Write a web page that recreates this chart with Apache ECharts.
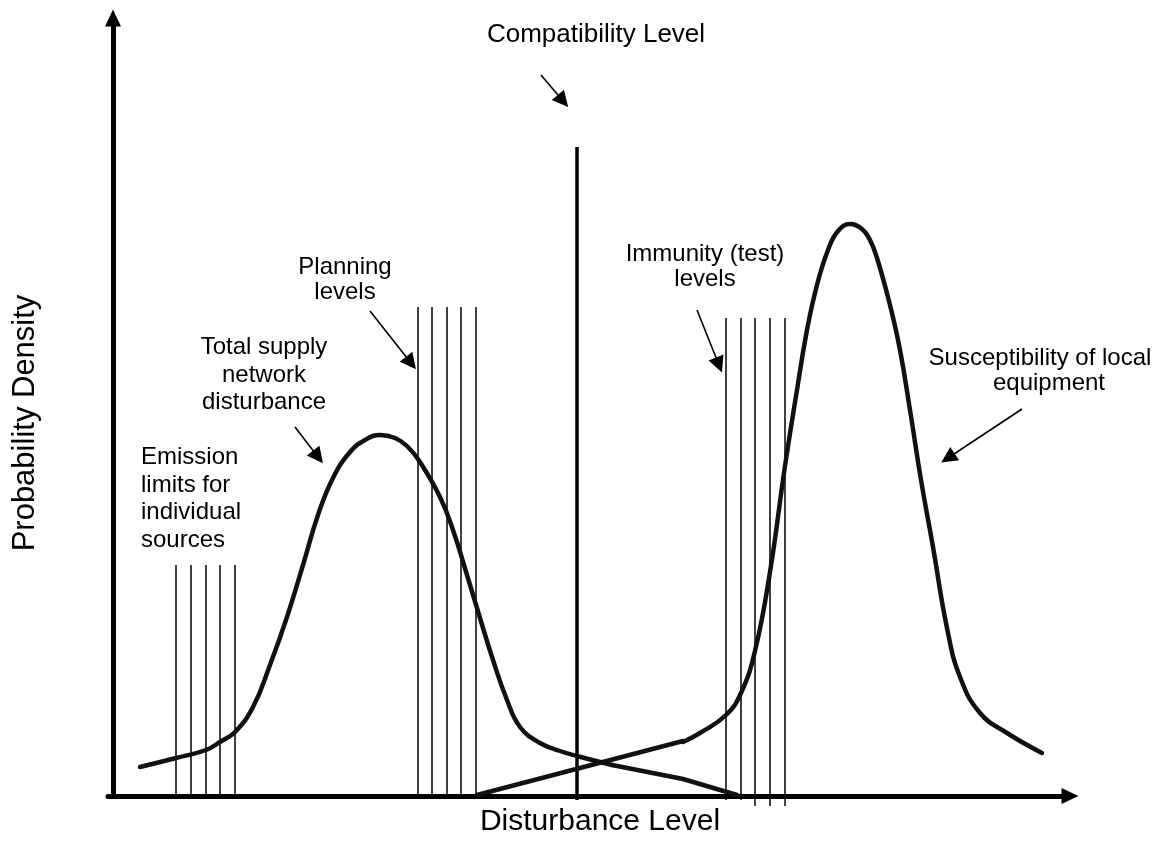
<!DOCTYPE html>
<html>
<head>
<meta charset="utf-8">
<title>Disturbance levels</title>
<script src="https://cdn.jsdelivr.net/npm/echarts@6/dist/echarts.min.js"></script>
<style>
  html, body { margin: 0; padding: 0; background: #fff; }
  #chart { width: 1156px; height: 841px; }
</style>
</head>
<body>
<div id="chart"></div>
<script>
// level lines (x position on the disturbance axis, top of the line)
const emissionLevels = [63, 78, 93, 107, 122]
const emissionTop = 231
const planningLevels = [305, 319, 334, 348, 363]
const planningTop = 489
const compatibilityLevel = 464
const compatibilityTop = 649
const immunityLevels = [613, 628, 642, 657, 672]
const immunityTop = 478
const immunityBottoms = [-4, -4, -10, -10, -10]

// total supply network disturbance (density curve)
const networkCurve = [
  [27, 29], [63, 38], [93, 46], [107, 54], [122, 64], [140, 89], [157, 131],
  [174, 179], [190, 231], [205, 281], [220, 318], [237, 344], [252, 356],
  [267, 361], [282, 358], [294, 350], [307, 334], [327, 299], [340, 266],
  [354, 221], [367, 178], [380, 136], [394, 96], [407, 69], [427, 53],
  [447, 45], [464, 40], [499, 31]
]
const networkTail = [[499, 31], [570, 17], [624, 1]]

// susceptibility of local equipment
const equipmentRise = [[364, 1], [570, 55]]
const equipmentCurve = [
  [570, 54], [587, 63], [613, 81], [628, 103], [642, 145], [657, 224],
  [672, 330], [684, 406], [694, 466], [704, 511], [715, 546], [725, 565],
  [737, 572], [749, 567], [757, 556], [764, 538], [777, 491], [787, 446],
  [797, 386], [808, 316], [820, 249], [834, 168], [847, 119], [867, 83],
  [894, 63], [929, 43]
]

// annotation arrows [from, to]
const arrows = [
  [[428, 721], [450, 695]],
  [[257, 485], [298, 433]],
  [[182, 369], [205, 339]],
  [[584, 486], [606, 431]],
  [[909, 387], [835, 338]]
]

const chart = echarts.init(document.getElementById('chart'))

const vLines = (xs, top, bottoms) => xs.map((x, i) => ({
  coords: [[x, Array.isArray(bottoms) ? bottoms[i] : bottoms], [x, top]]
}))

const font = '"Liberation Sans", Arial, sans-serif'
const label = (text, x, y, size, align, lineHeight) => ({
  type: 'text',
  x, y,
  style: {
    text,
    fill: '#000',
    font: size + 'px ' + font,
    textAlign: align || 'center',
    textVerticalAlign: 'middle',
    lineHeight: lineHeight || size + 2
  }
})

const curveStyle = { color: '#111', width: 4.5, cap: 'round' }

const axisLine = {
  onZero: true,
  symbol: ['none', 'triangle'],
  symbolSize: [16, 17],
  lineStyle: { color: '#000', width: 5 }
}

const option = {
  animation: false,
  backgroundColor: '#fff',
  grid: { left: 108, right: 86, top: 18, bottom: 45 },
  xAxis: {
    type: 'value',
    min: -5,
    max: 957,
    axisLine,
    axisTick: { show: false },
    axisLabel: { show: false },
    splitLine: { show: false }
  },
  yAxis: {
    type: 'value',
    min: 0,
    max: 778,
    axisLine,
    axisTick: { show: false },
    axisLabel: { show: false },
    splitLine: { show: false }
  },
  series: [
    {
      type: 'lines',
      coordinateSystem: 'cartesian2d',
      clip: false,
      lineStyle: { color: '#000', width: 1.5, opacity: 1 },
      data: vLines(emissionLevels, emissionTop, 0)
        .concat(vLines(planningLevels, planningTop, 0))
        .concat(vLines(immunityLevels, immunityTop, immunityBottoms))
    },
    {
      type: 'lines',
      coordinateSystem: 'cartesian2d',
      clip: false,
      lineStyle: { color: '#000', width: 3.5, opacity: 1 },
      data: vLines([compatibilityLevel], compatibilityTop, -4)
    },
    {
      type: 'line',
      data: networkCurve,
      smooth: 0.45,
      showSymbol: false,
      lineStyle: curveStyle
    },
    {
      type: 'line',
      data: networkTail,
      showSymbol: false,
      lineStyle: curveStyle
    },
    {
      type: 'line',
      data: equipmentRise,
      showSymbol: false,
      lineStyle: curveStyle
    },
    {
      type: 'line',
      data: equipmentCurve,
      smooth: 0.45,
      showSymbol: false,
      lineStyle: curveStyle
    },
    {
      type: 'lines',
      coordinateSystem: 'cartesian2d',
      clip: false,
      symbol: ['none', 'triangle'],
      symbolSize: [12, 16],
      lineStyle: { color: '#000', width: 1.6, opacity: 1 },
      data: arrows.map(a => ({ coords: a }))
    }
  ],
  graphic: [
    label('Compatibility Level', 596, 35, 26),
    label('Planning\nlevels', 345, 280, 24, 'center', 25),
    label('Total supply\nnetwork\ndisturbance', 264, 375, 24, 'center', 27.5),
    label('Emission\nlimits for\nindividual\nsources', 141, 499, 24, 'left', 27.7),
    label('Immunity (test)\nlevels', 705, 267, 24, 'center', 25),
    label('Susceptibility of local', 1040, 358, 24),
    label('equipment', 1049, 383, 24),
    label('Disturbance Level', 600, 822, 30),
    Object.assign(label('Probability Density', 25, 423, 31), { rotation: Math.PI / 2 })
  ]
}

chart.setOption(option)
</script>
</body>
</html>
